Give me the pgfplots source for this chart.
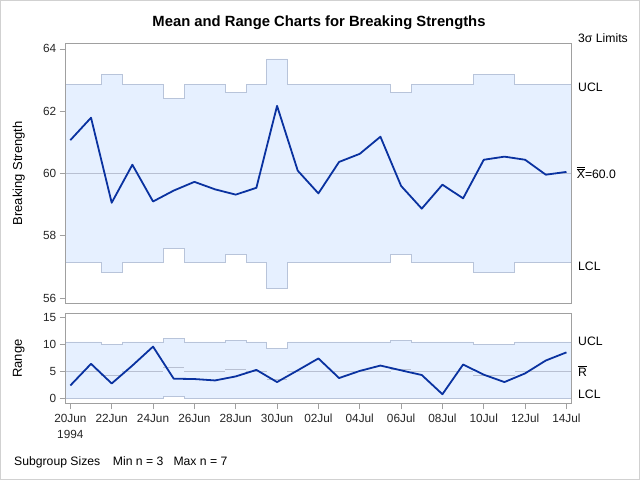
\documentclass[border=0pt]{standalone}
\usepackage{fontspec}
\setmainfont{Liberation Sans}
\usepackage{pgfplots}
\pgfplotsset{compat=1.18}
\usepackage{pgfplotstable}
\definecolor{framegray}{RGB}{160,160,160}
\definecolor{bandfill}{RGB}{230,240,255}
\definecolor{bandedge}{RGB}{184,196,218}
\definecolor{cline}{RGB}{184,192,210}
\definecolor{dataline}{RGB}{10,50,160}

\pgfplotstableread{
day mean range
0 61.07 2.43
1 61.79 6.42
2 59.06 2.80
3 60.28 6.10
4 59.10 9.59
5 59.45 3.68
6 59.73 3.62
7 59.49 3.36
8 59.32 4.10
9 59.54 5.30
10 62.17 3.06
11 60.09 5.22
12 59.36 7.41
13 60.37 3.80
14 60.63 5.11
15 61.18 6.10
16 59.60 5.22
17 58.87 4.36
18 59.64 0.82
19 59.20 6.29
20 60.44 4.42
21 60.54 3.06
22 60.44 4.66
23 59.96 7.03
24 60.05 8.53
}\data

\pgfplotstableread{
day rcl
-0.5 4.940
0 4.940
1 4.940
2 4.373
3 4.940
4 4.940
5 5.743
6 4.940
7 4.940
8 5.382
9 4.940
10 3.596
11 4.940
12 4.940
13 4.940
14 4.940
15 4.940
16 5.382
17 4.940
18 4.940
19 4.940
20 4.373
21 4.373
22 4.940
23 4.940
24 4.940
24.5 4.940
}\rcldata

\pgfplotsset{chart/.style={
  scale only axis, width=505.3pt,
  xmin=-0.225, xmax=24.22,
  axis line style={draw=framegray, line width=0.8pt},
  every tick/.style={draw=framegray, line width=0.8pt},
  major tick length=6pt, tick align=outside,
  xtick pos=bottom, ytick pos=left,
  tick label style={font=\fontsize{11.8}{16}\selectfont, text=black!85},
  /pgf/number format/assume math mode=true,
  clip mode=individual,
  axis on top,
  label style={font=\fontsize{13}{16}\selectfont},
  anchor=south west,
}}
\tikzset{rlab/.style={anchor=base west, inner sep=0pt, yshift=-4.2pt, font=\fontsize{12.2}{16}\selectfont}}

\begin{document}
\begin{tikzpicture}
\useasboundingbox (0pt,0pt) rectangle (640pt,480pt);
\draw[draw=black!18, line width=1pt] (0.5pt,0.5pt) rectangle (639.5pt,479.5pt);

\node[anchor=base, font=\fontsize{14.8}{16}\selectfont\bfseries] at (319pt,453.3pt) {Mean and Range Charts for Breaking Strengths};

% Mean chart
\begin{axis}[chart, at={(65.7pt,176.7pt)}, height=260pt,
  ymin=55.83, ymax=64.18, ytick={56,58,60,62,64}, xtick=\empty,
  ylabel={Breaking Strength},
  ylabel style={at={(axis description cs:-0.093,0.5)}, anchor=center}]
\addplot[fill=bandfill, draw=bandedge, line width=0.8pt] coordinates {
(-0.5,62.850) (1.5,62.850) (1.5,63.186) (2.5,63.186) (2.5,62.850) (4.5,62.850) (4.5,62.408) (5.5,62.408) (5.5,62.850) (7.5,62.850) (7.5,62.601) (8.5,62.601) (8.5,62.850) (9.5,62.850) (9.5,63.679) (10.5,63.679) (10.5,62.850) (15.5,62.850) (15.5,62.601) (16.5,62.601) (16.5,62.850) (19.5,62.850) (19.5,63.186) (21.5,63.186) (21.5,62.850) (24.5,62.850)
(24.5,57.150) (21.5,57.150) (21.5,56.814) (19.5,56.814) (19.5,57.150) (16.5,57.150) (16.5,57.399) (15.5,57.399) (15.5,57.150) (10.5,57.150) (10.5,56.321) (9.5,56.321) (9.5,57.150) (8.5,57.150) (8.5,57.399) (7.5,57.399) (7.5,57.150) (5.5,57.150) (5.5,57.592) (4.5,57.592) (4.5,57.150) (2.5,57.150) (2.5,56.814) (1.5,56.814) (1.5,57.150) (-0.5,57.150)
} -- cycle;
\addplot[cline, line width=0.8pt] coordinates {(-0.5,60) (24.5,60)};
\addplot[dataline, line width=1.8pt, line join=round] table[x=day, y=mean] {\data};
\node[rlab] at (axis cs:24.22,64.34) [xshift=7pt] {3σ Limits};
\node[rlab] at (axis cs:24.22,62.76) [xshift=7pt] {UCL};
\node[rlab] at (axis cs:24.22,59.97) [xshift=5.7pt] {$\overline{\overline{\mbox{X}}}$=60.0};
\node[rlab] at (axis cs:24.22,57.01) [xshift=7pt] {LCL};
\end{axis}

% Range chart
\begin{axis}[chart, at={(65.7pt,76.7pt)}, height=89.6pt,
  ymin=-0.85, ymax=15.65, ytick={0,5,10,15},
  xtick={0,2,...,24},
  xticklabels={{20Jun\\1994},22Jun,24Jun,26Jun,28Jun,30Jun,02Jul,04Jul,06Jul,08Jul,10Jul,12Jul,14Jul},
  xticklabel style={align=center, yshift=-1pt},
  ylabel={Range},
  ylabel style={at={(axis description cs:-0.093,0.5)}, anchor=center}]
\addplot[fill=bandfill, draw=bandedge, line width=0.8pt] coordinates {
(-0.5,10.446) (1.5,10.446) (1.5,9.979) (2.5,9.979) (2.5,10.446) (4.5,10.446) (4.5,11.054) (5.5,11.054) (5.5,10.446) (7.5,10.446) (7.5,10.786) (8.5,10.786) (8.5,10.446) (9.5,10.446) (9.5,9.256) (10.5,9.256) (10.5,10.446) (15.5,10.446) (15.5,10.786) (16.5,10.786) (16.5,10.446) (19.5,10.446) (19.5,9.979) (21.5,9.979) (21.5,10.446) (24.5,10.446)
(24.5,0) (5.5,0) (5.5,0.433) (4.5,0.433) (4.5,0) (-0.5,0)
} -- cycle;
\addplot[cline, line width=0.8pt, jump mark mid] table[x=day, y=rcl] {\rcldata};
\addplot[dataline, line width=1.8pt, line join=round] table[x=day, y=range] {\data};
\node[rlab] at (axis cs:24.22,10.5) [xshift=7pt] {UCL};
\node[rlab] at (axis cs:24.22,4.95) [xshift=7pt] {$\overline{\mbox{R}}$};
\node[rlab] at (axis cs:24.22,0.81) [xshift=7pt] {LCL};
\end{axis}

\node[anchor=base west, inner sep=0pt, font=\fontsize{12.2}{16}\selectfont] at (14pt,14.3pt) {Subgroup Sizes};
\node[anchor=base west, inner sep=0pt, font=\fontsize{12.2}{16}\selectfont] at (112.7pt,14.3pt) {Min n = 3};
\node[anchor=base west, inner sep=0pt, font=\fontsize{12.2}{16}\selectfont] at (173.3pt,14.3pt) {Max n = 7};
\end{tikzpicture}
\end{document}
